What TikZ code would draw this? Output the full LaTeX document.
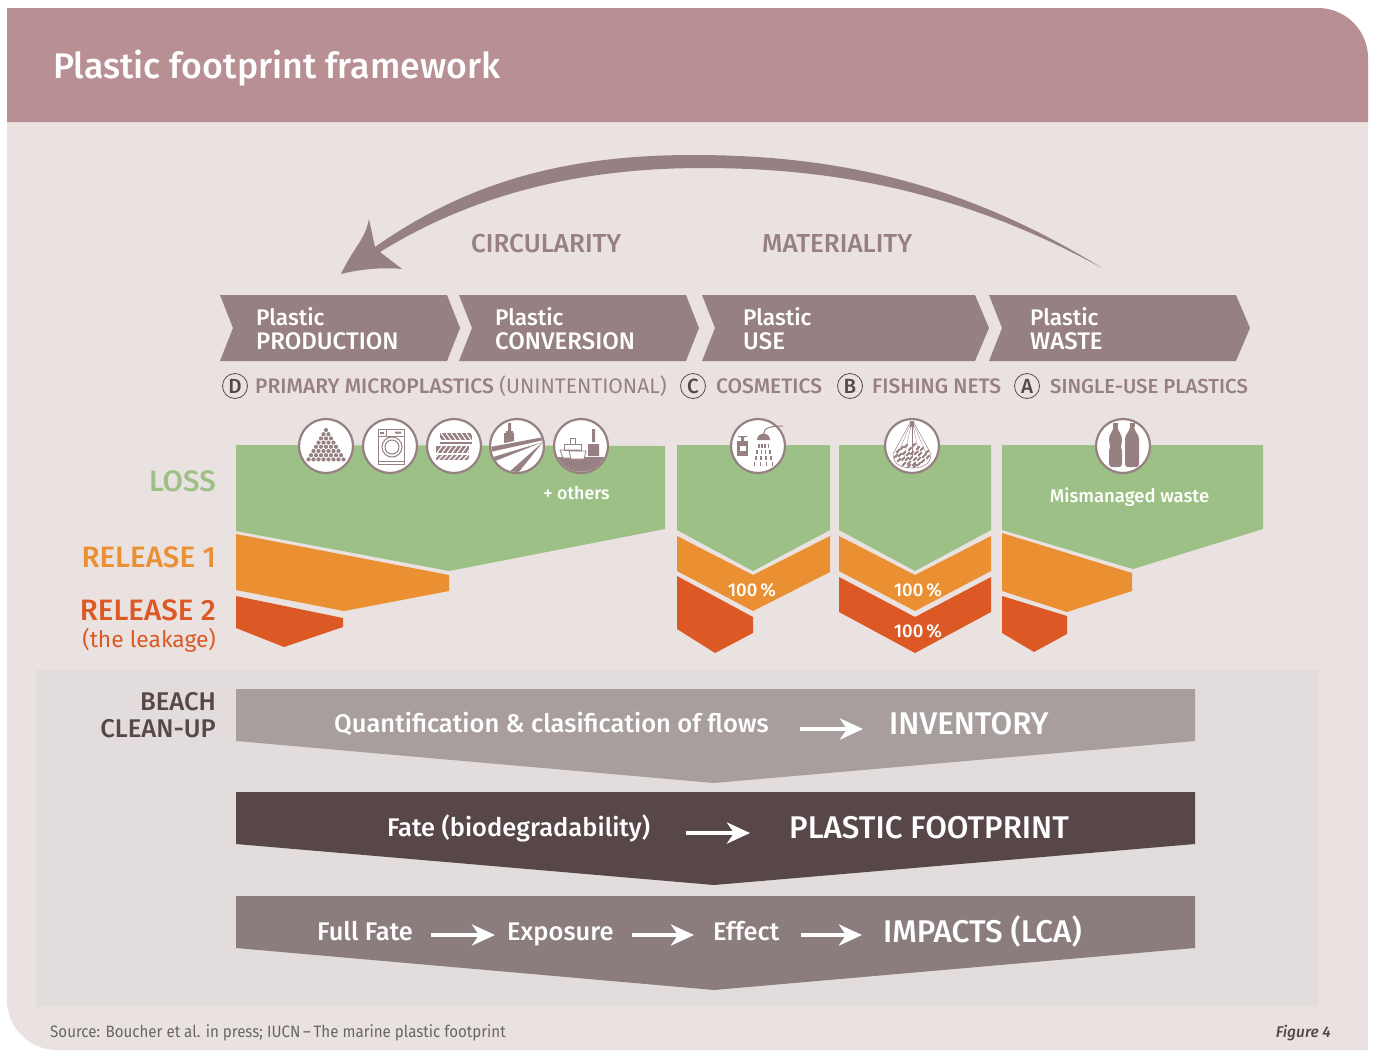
\documentclass[tikz,border=0pt]{standalone}
\usepackage{fontspec}
\setmainfont{Fira Sans}[BoldFont={Fira Sans Medium}]
\newfontfamily\narrowfont{Fira Sans}[FakeStretch=0.916]
\usetikzlibrary{arrows.meta}
\definecolor{headcol}{HTML}{B88F93}
\definecolor{panelcol}{HTML}{EAE2E1}
\definecolor{bandcol}{HTML}{E2DCDC}
\definecolor{stepcol}{HTML}{978081}
\definecolor{losscol}{HTML}{9CC085}
\definecolor{relonecol}{HTML}{EB8F33}
\definecolor{reltwocol}{HTML}{DC5925}
\definecolor{invcol}{HTML}{A99E9E}
\definecolor{footcol}{HTML}{584749}
\definecolor{impcol}{HTML}{8B7D7E}

\begin{document}
\begin{tikzpicture}[x=1pt,y=-1pt]
	% all coordinates in pixels of the figure, y downwards
	\tikzstyle{steptext} = [anchor=base west,text=white,font=\bfseries\fontsize{24}{24}\selectfont,inner sep=0pt]
	\tikzstyle{plastext} = [steptext,font=\bfseries\fontsize{22.6}{24}\selectfont]
	\tikzstyle{sublabel} = [anchor=base west,text=stepcol,font=\fontsize{21}{24}\selectfont,inner sep=0pt]
	\tikzstyle{letter} = [draw=footcol,thick,circle,minimum size=25pt,inner sep=0pt,text=footcol,font=\bfseries\fontsize{20.5}{22}\selectfont]
	\tikzstyle{sidelabel} = [anchor=base east,font=\bfseries\fontsize{29.5}{32}\selectfont,inner sep=0pt]
	\tikzstyle{flowtext} = [anchor=base west,text=white,font=\bfseries\fontsize{25.5}{28}\selectfont,inner sep=0pt]
	\tikzstyle{flowhead} = [anchor=base west,text=white,font=\bfseries\fontsize{31.4}{34}\selectfont,inner sep=0pt]
	\tikzstyle{onshape} = [anchor=base,text=white,font=\bfseries\fontsize{18.5}{20}\selectfont,inner sep=0pt]
	\tikzstyle{flowarrow} = [white,line width=4.5pt,-{Stealth[length=23pt,width=21pt,inset=7pt]}]
	\tikzstyle{iconring} = [draw=stepcol,fill=white,line width=2.2pt,circle,minimum size=54pt,inner sep=0pt]
	\useasboundingbox (0,0) rectangle (1373,1050);
	\fill[white] (0,0) rectangle (1373,1050);
	% panel and header
	\fill[panelcol] (7,122) -- (1368,122) -- (1368,1050) -- (57,1050) arc[start angle=-90,delta angle=-90,radius=50pt] -- cycle;
	\fill[headcol] (7,8) -- (1318,8) arc[start angle=90,delta angle=-90,radius=50pt] -- (1368,122) -- (7,122) -- cycle;
	\node[anchor=base west,text=white,inner sep=0pt,font=\bfseries\fontsize{35.7}{40}\selectfont] (title) at (53,78) {Plastic footprint framework};
	\fill[bandcol] (36,670) rectangle (1319,1007);
	% big return arrow
	\fill[stepcol] (1102,268) .. controls (960,180) and (830,155) .. (693,155)
		.. controls (570,155) and (470,180) .. (375,247)
		-- (369,219) .. controls (365,240) and (355,245) .. (341,274)
		.. controls (360,269) and (385,267) .. (402,269) -- (380,252)
		.. controls (480,190) and (590,168) .. (703,168)
		.. controls (830,168) and (960,190) .. (1102,268) -- cycle;
	\node[anchor=base west,text=stepcol,inner sep=0pt,font=\bfseries\fontsize{26}{28}\selectfont] (circ) at (471,252) {CIRCULARITY};
	\node[anchor=base west,text=stepcol,inner sep=0pt,font=\bfseries\fontsize{26}{28}\selectfont] (mater) at (762,252) {MATERIALITY};
	% life cycle steps
	\fill[stepcol] (220,295) -- (447,295) -- (460,328) -- (447,361) -- (220,361) -- (233,328) -- cycle;
	\fill[stepcol] (459,295) -- (686,295) -- (699,328) -- (686,361) -- (459,361) -- (472,328) -- cycle;
	\fill[stepcol] (702,295) -- (975,295) -- (989,328) -- (975,361) -- (702,361) -- (715,328) -- cycle;
	\fill[stepcol] (989,295) -- (1236,295) -- (1250,328) -- (1236,361) -- (989,361) -- (1002,328) -- cycle;
	\node[plastext] (prod1) at (256,325.5) {Plastic};
	\node[steptext] (prod2) at (256,349.5) {PRODUCTION};
	\node[plastext] (conv1) at (495,325.5) {Plastic};
	\node[steptext] (conv2) at (495,349.5) {CONVERSION};
	\node[plastext] (use1) at (743,325.5) {Plastic};
	\node[steptext] (use2) at (743,349.5) {USE};
	\node[plastext] (waste1) at (1030,325.5) {Plastic};
	\node[steptext] (waste2) at (1030,349.5) {WASTE};
	% application labels
	\node[letter] (letd) at (235,386) {D};
	\node[sublabel] (micro) at (255,393) {\textbf{PRIMARY MICROPLASTICS} (UNINTENTIONAL)};
	\node[letter] (letc) at (693,386) {C};
	\node[sublabel] (cosm) at (716,393) {\textbf{COSMETICS}};
	\node[letter] (letb) at (850,386) {B};
	\node[sublabel] (nets) at (872,393) {\textbf{FISHING NETS}};
	\node[letter] (leta) at (1027,386) {A};
	\node[sublabel,font=\fontsize{20.3}{24}\selectfont] (single) at (1050,393) {\textbf{SINGLE-USE PLASTICS}};
	% side labels
	\node[sidelabel,text=losscol] (loss) at (216,491.5) {LOSS};
	\node[sidelabel,text=relonecol] (rel1) at (216,567.5) {RELEASE 1};
	\node[sidelabel,text=reltwocol] (rel2) at (216,620.5) {RELEASE 2};
	\node[anchor=base east,inner sep=0pt,text=reltwocol,font=\fontsize{22.8}{26}\selectfont] (leak) at (216,647) {(the leakage)};
	\node[anchor=base east,inner sep=0pt,text=footcol,font=\bfseries\fontsize{25.6}{28}\selectfont] (beach) at (216,710) {BEACH};
	\node[anchor=base east,inner sep=0pt,text=footcol,font=\bfseries\fontsize{25.6}{28}\selectfont] (clean) at (216,737) {CLEAN-UP};
	% loss shapes
	\fill[losscol] (236,445) -- (665,446) -- (665,529) -- (449,571) -- (236,531) -- cycle;
	\fill[losscol] (677,445) -- (830,445) -- (830,530) -- (753,571) -- (677,530) -- cycle;
	\fill[losscol] (839,445) -- (991,445) -- (991,530) -- (915,571) -- (839,530) -- cycle;
	\fill[losscol] (1002,445) -- (1263,445) -- (1263,529) -- (1133,569) -- (1002,530) -- cycle;
	% release 1
	\fill[relonecol] (236,534) -- (449,575) -- (449,591) -- (344,611) -- (236,590) -- cycle;
	\fill[relonecol] (677,536) -- (753,575) -- (830,536) -- (830,572) -- (753,611) -- (677,571) -- cycle;
	\fill[relonecol] (839,536) -- (915,575) -- (991,536) -- (991,571) -- (915,611) -- (839,571) -- cycle;
	\fill[relonecol] (1002,533) -- (1132,573) -- (1132,591) -- (1067,612) -- (1002,591) -- cycle;
	% release 2
	\fill[reltwocol] (236,596) -- (343,618) -- (343,627) -- (284,647) -- (236,628) -- cycle;
	\fill[reltwocol] (677,576) -- (753,617) -- (753,633) -- (715,653) -- (677,629) -- cycle;
	\fill[reltwocol] (839,577) -- (915,617) -- (991,577) -- (991,612) -- (915,653) -- (839,612) -- cycle;
	\fill[reltwocol] (1002,596) -- (1067,616) -- (1067,634) -- (1034,652) -- (1002,633) -- cycle;
	\node[onshape,font=\bfseries\fontsize{17.8}{20}\selectfont] (others) at (576.5,499) {+ others};
	\node[onshape] (mism) at (1129.5,502) {Mismanaged waste};
	\node[onshape] (pca) at (752,596) {100\,\%};
	\node[onshape] (pcb) at (918,596) {100\,\%};
	\node[onshape] (pcc) at (918,637) {100\,\%};
	% icon rings
	\node[iconring] (pile) at (326,446) {};
	\node[iconring] (washer) at (390,446) {};
	\node[iconring] (tyres) at (454,446) {};
	\node[iconring] (road) at (517,446) {};
	\node[iconring] (ships) at (581,446) {};
	\node[iconring] (shower) at (758,446) {};
	\node[iconring] (fishnet) at (912,446) {};
	\node[iconring] (bottles) at (1123,446) {};
	% pellets
	\begin{scope}[shift={(326,446)}]
		\foreach \r in {0,...,7}
			\foreach \c in {0,...,\r}
				\fill[stepcol] ({(\c-\r/2)*5},{-16+\r*4.2}) circle (2.1pt);
	\end{scope}
	% washing machine
	\begin{scope}[shift={(390,446)},draw=stepcol,line width=1pt]
		\draw (-12,-17) rectangle (14,18);
		\draw (-12,-10) -- (14,-10) (-4,-17) -- (-4,-10);
		\draw (2,1) circle (10pt) (2,1) circle (7pt);
		\draw (-12,15) -- (14,15);
		\fill[stepcol] (5,-14.5) rectangle (11,-12.5) (-10,-14) rectangle (-6,-12);
	\end{scope}
	% tyres
	\begin{scope}[shift={(454,446)}]
		\fill[stepcol] (-14,-13) rectangle (18,-6);
		\fill[stepcol] (-14,-4.5) rectangle (18,-2);
		\fill[stepcol] (-18,0) rectangle (15,7);
		\fill[stepcol] (-18,9) rectangle (15,14);
		\foreach \i in {-1,...,6} {
			\draw[white,line width=1.1pt] ({-13+\i*5},-13) -- ({-8+\i*5},-6);
			\draw[white,line width=1.1pt] ({-12+\i*5},7) -- ({-7+\i*5},0);
			\draw[white,line width=1.1pt] ({-16+\i*5},14) -- ({-11+\i*5},9);
		}
	\end{scope}
	% road and brush
	\begin{scope}[shift={(517,446)}]
		\clip (0,0) circle (25.8pt);
		\fill[stepcol] (-27,1) -- (27,-9) -- (27,-6) -- (-27,6) -- cycle;
		\fill[stepcol] (26,-4) -- (-27,12) -- (-27,17) -- cycle;
		\fill[stepcol] (26,-4) -- (-9,27) -- (1,27) -- cycle;
		\fill[stepcol] (-13,-3) -- (-13,-13) -- (-3,-13) -- (-3,-5) -- cycle;
		\fill[stepcol] (-9,-15) rectangle (-6,-23) (-11,-15) rectangle (-4,-13);
	\end{scope}
	% ships and brush
	\begin{scope}[shift={(581,446)}]
		\begin{scope}
			\clip (0,0) circle (25.8pt);
			\fill[stepcol] (-27,11) rectangle (27,28);
		\end{scope}
		\fill[white,draw=stepcol,line width=.8pt] (-21,4) -- (-2,4) -- (-4,12) -- (-18,12) -- cycle;
		\fill[white,draw=stepcol,line width=.8pt] (-12,5) -- (5,5) -- (3,13) -- (-10,13) -- cycle;
		\draw[stepcol,line width=.8pt] (-17,4) rectangle (0,-2) (-11,-2) rectangle (-6,-8);
		\fill[stepcol] (7,-2) rectangle (18,10) (11,-4) rectangle (14,-17);
	\end{scope}
	% cosmetics and shower
	\begin{scope}[shift={(758,446)}]
		\fill[stepcol] (-21,-5) rectangle (-10,10);
		\fill[white] (-18.5,0) rectangle (-12.5,5);
		\fill[stepcol] (-17,-9) rectangle (-14,-5) (-20,-10) rectangle (-11,-9);
		\fill[stepcol] (-1,-6) arc[start angle=180,end angle=0,radius=6.5pt] -- cycle;
		\draw[stepcol,line width=1pt] (5.5,-12) .. controls (6,-18) and (12,-20) .. (25,-20);
		\foreach \r/\w in {-2/1,4/1.3,10/1.6,16/1.9}
			\foreach \c in {-1.5,-.5,.5,1.5}
				\fill[stepcol] ({5.5+\c*\w*3.2-.8},\r) rectangle ({5.5+\c*\w*3.2+.8},{\r+3.5});
	\end{scope}
	% net
	\begin{scope}[shift={(912,446)}]
		\draw[stepcol,line width=.5pt] (-1.5,-24) -- (-19,8) (1.5,-24) -- (19,8);
		\draw[stepcol,line width=.5pt] (-19,8) .. controls (-19,20) and (-8,22) .. (0,22) .. controls (8,22) and (19,20) .. (19,8);
		\foreach \i in {-4,-2,...,4} {
			\draw[stepcol,line width=.3pt] (\i*.35,-22) -- (\i*4,12);
		}
		\fill[stepcol] (-2,-25) rectangle (2,-19);
		\foreach \x/\y in {-14/5,-10/2,-6/0,-2/3,2/-1,6/2,10/3,15/6,-16/10,-12/9,-8/7,-4/8,0/7,4/7,8/8,12/10,16/11,-13/14,-9/13,-5/13,-1/12,3/13,7/13,11/15,-8/18,-3/17,2/18,7/18,-3/20,3/20}
			\draw[stepcol,line width=1.9pt,line cap=round] (\x-1.5,\y+1.5) -- (\x+1.5,\y-1.5);
	\end{scope}
	% bottles
	\begin{scope}[shift={(1123,446)}]
		\fill[stepcol] (-10,-23) rectangle (-5,-19);
		\fill[stepcol] (-9.5,-19) -- (-5.5,-19) .. controls (-5,-14) and (-1,-12) .. (-1,-7) .. controls (-1,-2) and (-3,0) .. (-1,5) -- (-1,18) .. controls (-1,21) and (-3,21) .. (-5,21) -- (-10,21) .. controls (-12,21) and (-14,21) .. (-14,18) -- (-14,5) .. controls (-12,0) and (-14,-2) .. (-14,-7) .. controls (-14,-12) and (-10,-14) .. (-9.5,-19) -- cycle;
		\fill[stepcol] (6.5,-23) rectangle (11.5,-19);
		\fill[stepcol] (7,-19) -- (11,-19) .. controls (11.5,-14) and (16,-12) .. (16,-7) -- (16,18) .. controls (16,21) and (14,21) .. (12,21) -- (6,21) .. controls (4,21) and (2,21) .. (2,18) -- (2,-7) .. controls (2,-12) and (6.5,-14) .. (7,-19) -- cycle;
	\end{scope}
	% lower bands
	\fill[invcol] (236,689) -- (1195,689) -- (1195,741) -- (714,783) -- (236,741) -- cycle;
	\fill[footcol] (236,792) -- (1195,792) -- (1195,844) -- (714,885) -- (236,844) -- cycle;
	\fill[impcol] (236,896) -- (1195,896) -- (1195,948) -- (714,990) -- (236,948) -- cycle;
	\node[flowtext] (quant) at (334,732) {Quantification \& clasification of flows};
	\node[flowhead] (inv) at (889,734) {INVENTORY};
	\node[flowtext] (fate) at (387,836) {Fate (biodegradability)};
	\node[flowhead] (foot) at (789,838) {PLASTIC FOOTPRINT};
	\node[flowtext] (full) at (317,940) {Full Fate};
	\node[flowtext] (expo) at (507,940) {Exposure};
	\node[flowtext] (eff) at (713,940) {Effect};
	\node[flowhead] (imp) at (883,942) {IMPACTS (LCA)};
	\draw[flowarrow] ([xshift=31pt,yshift=3pt]quant.base east) -- ([xshift=-26pt,yshift=5pt]inv.base west);
	\draw[flowarrow] ([xshift=36pt,yshift=3pt]fate.base east) -- ([xshift=-39pt,yshift=5pt]foot.base west);
	\draw[flowarrow] ([xshift=18pt,yshift=5pt]full.base east) -- ([xshift=-12pt,yshift=5pt]expo.base west);
	\draw[flowarrow] ([xshift=18pt,yshift=5pt]expo.base east) -- ([xshift=-19pt,yshift=5pt]eff.base west);
	\draw[flowarrow] ([xshift=21pt,yshift=5pt]eff.base east) -- ([xshift=-21pt,yshift=7pt]imp.base west);
	% footer
	\node[anchor=base west,inner sep=0pt,text=black!60,font=\narrowfont\fontsize{16.5}{18}\selectfont] (source) at (50,1037) {Source: Boucher et al. in press; IUCN\,–\,The marine plastic footprint};
	\node[anchor=base east,inner sep=0pt,text=footcol,font=\bfseries\itshape\fontsize{15.5}{18}\selectfont] (figno) at (1331,1037) {Figure 4};
\end{tikzpicture}
\end{document}
